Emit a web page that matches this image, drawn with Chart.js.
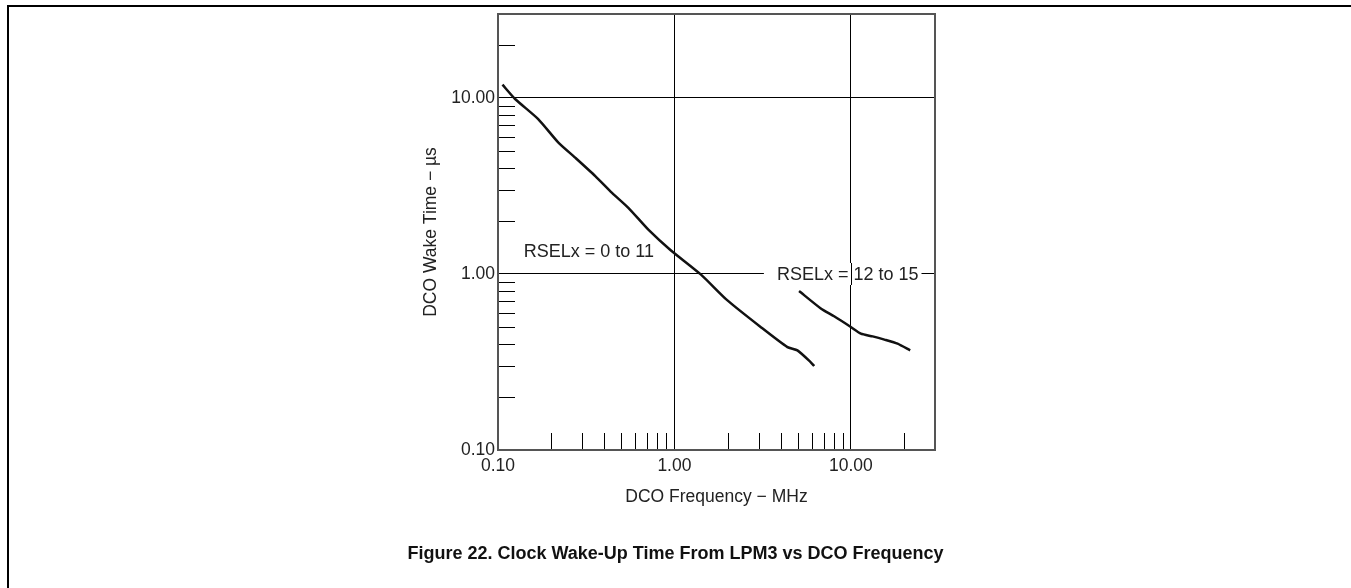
<!DOCTYPE html>
<html>
<head>
<meta charset="utf-8">
<script src="https://cdn.jsdelivr.net/npm/chart.js@4.4.1/dist/chart.umd.min.js"></script>
<style>
  html, body { margin: 0; padding: 0; background: #fff; overflow: hidden; }
  #wrap { position: relative; width: 1351px; height: 588px; }
  #frame { position: absolute; left: 7px; top: 5px; width: 1400px; height: 700px;
           border-top: 2px solid #000; border-left: 2px solid #000; }
  #caption { position: absolute; left: 0; width: 1351px; top: 543px; text-align: center;
             font: bold 18px "Liberation Sans", Arial, sans-serif; color: #111; }
  canvas { position: absolute; left: 0; top: 0; }
</style>
</head>
<body>
<div id="wrap">
  <div id="frame"></div>
  <canvas id="chart" width="1351" height="588"></canvas>
  <div id="caption">Figure 22. Clock Wake-Up Time From LPM3 vs DCO Frequency</div>
</div>
<script>
// RSELx = 0 to 11
const freqLow = [0.106, 0.125, 0.169, 0.220, 0.274, 0.356, 0.443, 0.550, 0.714, 0.949, 1.41, 1.99, 3.08, 4.37, 4.98, 5.93, 6.2];
const wakeLow = [11.9, 9.87, 7.59, 5.58, 4.58, 3.60, 2.89, 2.37, 1.78, 1.37, 0.995, 0.71, 0.50, 0.384, 0.368, 0.315, 0.30];
// RSELx = 12 to 15
const freqHigh = [5.09, 6.76, 8.04, 10.0, 11.4, 13.3, 15.5, 18.4, 21.7];
const wakeHigh = [0.80, 0.637, 0.575, 0.50, 0.458, 0.442, 0.424, 0.402, 0.368];

const majorTicks = [0.1, 1, 10];
const minorTicks = [0.2, 0.3, 0.4, 0.5, 0.6, 0.7, 0.8, 0.9, 2, 3, 4, 5, 6, 7, 8, 9, 20];

const FONT = '"Liberation Sans", Arial, sans-serif';

function toPoints(xs, ys) {
    return xs.map((x, i) => ({ x: x, y: ys[i] }));
}

// short tick marks inside the box, the two curve labels and the outer box
const minorTickPlugin = {
    id: 'minorTicks',
    beforeDatasetsDraw(chart) {
        const ctx = chart.ctx;
        const area = chart.chartArea;
        const xs = chart.scales.x, ys = chart.scales.y;
        ctx.save();
        ctx.strokeStyle = '#000';
        ctx.lineWidth = 1;
        ctx.beginPath();
        minorTicks.forEach(v => {
            const py = Math.round(ys.getPixelForValue(v)) + 0.5;
            ctx.moveTo(area.left, py);
            ctx.lineTo(area.left + 17, py);
            const px = Math.round(xs.getPixelForValue(v)) + 0.5;
            ctx.moveTo(px, area.bottom);
            ctx.lineTo(px, area.bottom - 17);
        });
        ctx.stroke();

        ctx.font = '18px ' + FONT;
        ctx.textBaseline = 'middle';
        ctx.textAlign = 'left';
        ctx.fillStyle = '#222';
        const t1x = xs.getPixelForValue(0.14), t1y = ys.getPixelForValue(1.34);
        ctx.fillText('RSELx = 0 to 11', t1x, t1y);

        // second label sits on the 1.00 grid line with a white backing
        const t2 = 'RSELx = 12 to 15';
        const t2x = xs.getPixelForValue(3.81), t2y = ys.getPixelForValue(1);
        const w = ctx.measureText(t2).width;
        ctx.fillStyle = '#fff';
        ctx.fillRect(t2x - 13, t2y - 11, w + 16, 22);
        ctx.beginPath();
        const gx = Math.round(xs.getPixelForValue(10)) + 0.5;
        ctx.moveTo(gx, t2y - 11);
        ctx.lineTo(gx, t2y + 11);
        ctx.stroke();
        ctx.fillStyle = '#222';
        ctx.fillText(t2, t2x, t2y + 1);

        ctx.strokeStyle = '#555';
        ctx.lineWidth = 2;
        ctx.strokeRect(area.left, area.top, area.right - area.left, area.bottom - area.top);
        ctx.restore();
    }
};

const gridColor = c => (c.tick && c.tick.value === 0.1) ? 'rgba(0,0,0,0)' : '#000';

new Chart(document.getElementById('chart').getContext('2d'), {
    type: 'line',
    data: {
        datasets: [
            { data: toPoints(freqLow, wakeLow), borderColor: '#111', borderWidth: 2.5, pointRadius: 0, tension: 0.2, fill: false },
            { data: toPoints(freqHigh, wakeHigh), borderColor: '#111', borderWidth: 2.5, pointRadius: 0, tension: 0.2, fill: false }
        ]
    },
    options: {
        responsive: false,
        animation: false,
        layout: { padding: { left: 421, top: 14, right: 416, bottom: 80 } },
        plugins: { legend: { display: false }, tooltip: { enabled: false } },
        scales: {
            x: {
                type: 'logarithmic',
                min: 0.1,
                max: 30,
                afterBuildTicks: s => { s.ticks = majorTicks.map(v => ({ value: v })); },
                afterFit: s => { s.height = 58; },
                border: { display: false },
                grid: { color: gridColor, lineWidth: 1, drawTicks: false },
                ticks: { color: '#222', font: { family: FONT, size: 17.5 }, padding: 6, maxRotation: 0,
                         callback: v => Number(v).toFixed(2) },
                title: { display: true, text: 'DCO Frequency − MHz', color: '#222', padding: 0,
                         font: { family: FONT, size: 17.5 } }
            },
            y: {
                type: 'logarithmic',
                min: 0.1,
                max: 30,
                afterBuildTicks: s => { s.ticks = majorTicks.map(v => ({ value: v })); },
                afterFit: s => { s.width = 77; },
                border: { display: false },
                grid: { color: gridColor, lineWidth: 1, drawTicks: false },
                ticks: { color: '#222', font: { family: FONT, size: 17.5 }, padding: 3,
                         callback: v => Number(v).toFixed(2) },
                title: { display: true, text: 'DCO Wake Time − µs', color: '#222', padding: 0,
                         font: { family: FONT, size: 17.5 } }
            }
        }
    },
    plugins: [minorTickPlugin]
});
</script>
</body>
</html>
